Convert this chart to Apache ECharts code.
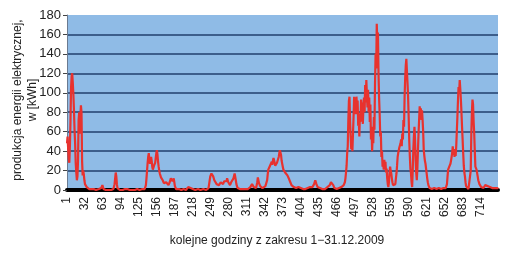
<!DOCTYPE html>
<html><head><meta charset="utf-8">
<script src="https://cdn.jsdelivr.net/npm/echarts@6/dist/echarts.min.js"></script>
<style>html,body{margin:0;padding:0;background:#fff}#c{width:509px;height:254px}</style>
</head><body><div id="c"></div>
<script>
// hourly production, December 2009 (one array per day, 24 values)
const day01 = [48,55,42,32,28,45,70,105,117,120,110,98,82,62,48,28,18,10,14,30,72,80,58,75];
const day02 = [87,80,30,15,20,16,10,6,5,4,3,3,2,2,1,1,1,0,1,0,1,0,1,0];
const day03 = [0,1,0,0,1,0,0,1,0,0,1,2,4,5,3,1,0,0,1,0,0,1,0,0];
const day04 = [0,1,0,0,0,1,0,0,1,2,6,12,18,14,6,2,1,0,1,0,0,1,0,0];
const day05 = [0,1,0,0,1,0,0,0,1,0,0,1,0,0,0,1,0,0,1,0,0,0,1,0];
const day06 = [0,1,0,0,1,0,0,1,0,0,1,0,1,0,1,1,5,12,20,28,34,38,31,27];
const day07 = [30,34,30,24,21,23,25,24,28,33,38,41,36,29,24,20,17,15,13,12,12,10,8,7];
const day08 = [6,5,7,8,6,9,7,5,6,8,10,12,14,11,9,10,12,8,4,2,1,0,1,0];
const day09 = [0,1,0,0,1,0,1,0,0,1,0,0,1,0,0,1,2,3,2,1,3,2,1,0];
const day10 = [0,1,0,0,1,0,0,1,0,0,1,0,0,1,0,0,1,0,0,1,0,1,0,0];
const day11 = [0,1,0,1,2,4,10,14,16,17,15,17,14,12,10,11,9,8,6,5,7,6,5,7];
const day12 = [6,8,9,7,8,6,7,9,7,8,10,9,12,10,8,7,6,5,6,8,9,7,9,12];
const day13 = [14,17,16,10,6,4,2,1,1,0,1,0,1,0,0,1,0,1,0,0,1,0,1,0];
const day14 = [1,0,1,2,3,4,5,6,5,4,3,4,4,3,2,4,8,13,12,7,5,4,3,4];
const day15 = [3,2,3,2,3,3,4,5,6,10,16,21,20,23,25,24,27,29,26,30,33,33,28,25];
const day16 = [24,24,28,30,27,34,38,41,42,36,30,27,24,21,22,20,18,19,17,17,15,16,13,11];
const day17 = [9,8,6,5,5,4,4,3,3,4,3,2,3,2,2,3,2,2,3,2,1,2,2,1];
const day18 = [2,1,2,1,2,1,1,2,1,2,2,3,2,3,4,3,4,5,6,8,10,9,6,4];
const day19 = [3,2,2,1,2,1,1,2,1,1,2,1,1,1,2,1,2,3,2,3,4,5,6,8];
const day20 = [10,9,8,5,3,2,2,1,2,1,1,2,1,2,2,3,2,3,4,3,4,5,6,8];
const day21 = [12,18,25,38,45,72,92,96,70,55,42,50,40,58,75,96,80,90,78,96,85,92,66,72];
const day22 = [55,79,70,93,82,90,68,85,95,80,108,90,113,98,85,103,80,95,70,88,52,65,40,58];
const day23 = [48,75,62,110,140,125,171,150,162,120,95,78,55,60,34,40,24,28,21,31,25,29,18,22];
const day24 = [12,6,3,8,18,24,20,17,12,8,5,4,3,3,6,12,17,25,34,38,40,44,45,48];
const day25 = [52,45,58,52,72,65,96,115,128,135,122,110,96,75,51,35,22,17,8,3,20,41,55,65];
const day26 = [52,31,18,10,22,41,58,72,86,76,84,72,82,72,60,41,35,30,27,22,17,12,8,5];
const day27 = [3,2,2,1,2,1,2,1,1,2,1,1,2,1,1,2,1,2,1,1,2,1,1,2];
const day28 = [1,2,1,2,1,2,3,6,14,21,22,24,24,27,30,31,38,45,36,42,34,38,35,45];
const day29 = [60,75,92,106,100,113,104,93,80,65,52,38,25,18,14,8,4,3,2,2,1,2,2,3];
const day30 = [20,58,80,93,88,70,58,40,24,22,21,20,14,10,8,6,5,4,3,2,2,3,2,3];
const day31 = [4,5,6,7,5,4,3,4,5,3,2,3,4,2,3,3,4,2,1,2,1,1,2,1];

const yTicks = [0,20,40,60,80,100,120,140,160,180];
const xLabelEvery = 31;
const yTitle = 'produkcja energii elektrycznej,\nw [kWh]';
const xTitle = 'kolejne godziny z zakresu 1\u221231.12.2009';

const values = [].concat(day01,day02,day03,day04,day05,day06,day07,day08,day09,day10,
  day11,day12,day13,day14,day15,day16,day17,day18,day19,day20,day21,day22,day23,day24,
  day25,day26,day27,day28,day29,day30,day31);
const hours = values.map((v,i)=>String(i+1));

const FONT = '"Liberation Sans", Arial, sans-serif';
const chart = echarts.init(document.getElementById('c'), null, {renderer:'canvas'});
const gridCols = yTicks.map((t,i)=> i===yTicks.length-1 ? 'rgba(0,0,0,0)' : '#203f6c');
chart.setOption({
  animation:false,
  grid:{left:67, right:11, top:15, bottom:64, show:true, backgroundColor:'#8fbbe6', borderWidth:0},
  xAxis:{
    type:'category', data:hours, boundaryGap:false,
    axisLine:{show:true, lineStyle:{color:'#000', width:4}},
    axisTick:{show:false},
    axisLabel:{interval:xLabelEvery-1, rotate:90, fontSize:12, fontFamily:FONT, color:'#222', margin:7},
    splitLine:{show:false}
  },
  yAxis:{
    type:'value', min:yTicks[0], max:yTicks[yTicks.length-1], interval:20,
    axisLine:{show:true, lineStyle:{color:'#6a7a90', width:1}},
    axisTick:{show:true, length:4, lineStyle:{color:'#444'}},
    axisLabel:{fontSize:13, fontFamily:FONT, color:'#222', margin:6},
    splitLine:{show:true, lineStyle:{color:gridCols, width:1.6}}
  },
  graphic:[
    {type:'text', x:25, y:100, rotation:Math.PI/2,
     style:{text:yTitle, font:'12px '+FONT, fill:'#222', textAlign:'center', textVerticalAlign:'middle', lineHeight:15}},
    {type:'text', x:277, y:241,
     style:{text:xTitle, font:'12px '+FONT, fill:'#222', textAlign:'center', textVerticalAlign:'middle'}}
  ],
  series:[{type:'line', data:values, symbol:'none', smooth:false,
    lineStyle:{color:'#e8322e', width:2.2}, z:3}]
});
</script></body></html>
